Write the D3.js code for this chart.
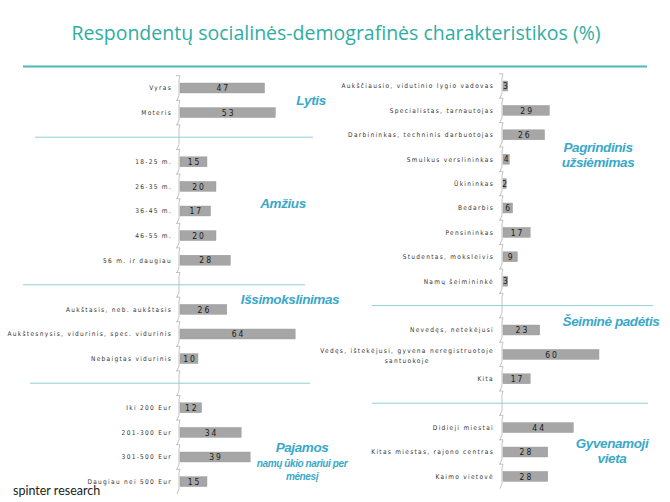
<!DOCTYPE html>
<html>
<head>
<meta charset="utf-8">
<script src="https://cdn.jsdelivr.net/npm/d3@7"></script>
<style>
  body { margin: 0; background: #fff; }
  .cat { font-family: "Liberation Sans Narrow", "DejaVu Sans Condensed", "Liberation Sans", sans-serif; font-size: 6.5px; letter-spacing: 1.3px; fill: #333; }
  .val { font-family: "Liberation Sans Narrow", "DejaVu Sans Condensed", sans-serif; font-size: 8.5px; letter-spacing: 2px; fill: #1a1a1a; }
  .sec { font-family: "Liberation Sans", Arial, sans-serif; font-weight: bold; font-style: italic; fill: #3aa8c9; letter-spacing: -0.4px; }
</style>
</head>
<body>
<script>
// Left column: categories (null = blank row between groups)
const leftCategories = ["Vyras", "Moteris", null,
  "18-25 m.", "26-35 m.", "36-45 m.", "46-55 m.", "56 m. ir daugiau", null,
  "Aukštasis, neb. aukštasis", "Aukštesnysis, vidurinis, spec. vidurinis", "Nebaigtas vidurinis", null,
  "Iki 200 Eur", "201-300 Eur", "301-500 Eur", "Daugiau nei 500 Eur"];
const leftValues = [47, 53, null, 15, 20, 17, 20, 28, null, 26, 64, 10, null, 12, 34, 39, 15];

// Right column
const rightCategories = ["Aukščiausio, vidutinio lygio vadovas", "Specialistas, tarnautojas",
  "Darbininkas, techninis darbuotojas", "Smulkus verslininkas", "Ūkininkas", "Bedarbis",
  "Pensininkas", "Studentas, moksleivis", "Namų šeimininkė", null,
  "Nevedęs, netekėjusi", "Vedęs, ištekėjusi, gyvena neregistruotoje|santuokoje", "Kita", null,
  "Didieji miestai", "Kitas miestas, rajono centras", "Kaimo vietovė"];
const rightValues = [3, 29, 26, 4, 2, 6, 17, 9, 3, null, 23, 60, 17, null, 44, 28, 28];

const leftSections = [["Lytis"], ["Amžius"], ["Išsimokslinimas"], ["Pajamos", "namų ūkio nariui per", "mėnesį"]];
const rightSections = [["Pagrindinis", "užsiėmimas"], ["Šeiminė padėtis"], ["Gyvenamoji", "vieta"]];

const W = 670, H = 502;
const svg = d3.select("body").append("svg").attr("width", W).attr("height", H);

// title
svg.append("text")
  .attr("x", 336).attr("y", 40)
  .attr("text-anchor", "middle")
  .style("font-family", "'Open Sans', 'Noto Sans', sans-serif")
  .style("font-size", "19.5px")
  .style("fill", "#2fada3")
  .text("Respondentų socialinės-demografinės charakteristikos (%)");
svg.append("line")
  .attr("x1", 23).attr("x2", 647).attr("y1", 66.5).attr("y2", 66.5)
  .style("stroke", "#4db7b3").style("stroke-width", 2);

function drawColumn(cats, vals, opt) {
  const keys = cats.map((c, i) => c === null ? "gap" + i : c);
  const y = d3.scaleBand().domain(keys).range(opt.yRange);
  const x = d3.scaleLinear().domain([0, 100]).range([opt.x0, opt.x0 + opt.pxPer100]);
  const g = svg.append("g");
  const bh = 10;

  // axis with small slanted ticks
  const ax = opt.x0 - 1;
  let p = "";
  keys.forEach(k => {
    const t = y(k), b = y(k) + y.bandwidth();
    p += `M${ax - 3},${t} H${ax + 1} L${ax},${t + 4} V${b - 5} L${ax - 2},${b}`;
  });
  g.append("path").attr("d", p).style("fill", "none").style("stroke", "#b3b3b3").style("stroke-width", 0.8);

  // separators in blank rows
  keys.forEach((k, i) => {
    if (cats[i] !== null) return;
    const s = opt.seps.shift();
    g.append("line").attr("x1", s[0]).attr("x2", s[1])
      .attr("y1", y(k) + y.bandwidth() / 2).attr("y2", y(k) + y.bandwidth() / 2)
      .style("stroke", "#8fcfd4").style("stroke-width", 1);
  });

  const rows = keys.map((k, i) => ({ k, c: cats[i], v: vals[i] })).filter(d => d.c !== null);

  g.selectAll(".bar").data(rows).enter().append("rect")
    .attr("x", x(0)).attr("y", d => y(d.k) + y.bandwidth() / 2 - bh / 2)
    .attr("width", d => x(d.v) - x(0)).attr("height", bh)
    .style("fill", "#a6a6a6").style("stroke", "#999").style("stroke-width", 0.4);

  g.selectAll(".val").data(rows).enter().append("text")
    .attr("class", "val")
    .attr("x", d => (x(0) + x(d.v)) / 2 + 1)
    .attr("y", d => y(d.k) + y.bandwidth() / 2 + 3.2)
    .attr("text-anchor", "middle")
    .text(d => d.v);

  rows.forEach(d => {
    const lines = d.c.split("|");
    const cy = y(d.k) + y.bandwidth() / 2;
    if (lines.length === 1) {
      g.append("text").attr("class", "cat").attr("x", opt.labelX).attr("y", cy + 2.3)
        .attr("text-anchor", "end").text(d.c);
    } else {
      const t1 = g.append("text").attr("class", "cat").attr("x", opt.labelX).attr("y", cy - 1.5)
        .attr("text-anchor", "end").text(lines[0]);
      const bb = t1.node().getBBox();
      g.append("text").attr("class", "cat").attr("x", bb.x + bb.width / 2).attr("y", cy + 9)
        .attr("text-anchor", "middle").text(lines[1]);
    }
  });
}

drawColumn(leftCategories, leftValues, {
  yRange: [75.7, 75.7 + 17 * 24.6], x0: 180, pxPer100: 180, labelX: 172,
  seps: [[35, 313], [23, 305], [30, 310]]
});
drawColumn(rightCategories, rightValues, {
  yRange: [73.8, 73.8 + 17 * 24.4], x0: 503, pxPer100: 160, labelX: 494,
  seps: [[372, 653], [372, 648]]
});

// section titles
function section(lines, cx, y0, sizes, lh) {
  lines.forEach((t, i) => {
    svg.append("text").attr("class", "sec")
      .attr("x", cx).attr("y", y0 + i * lh[i])
      .attr("text-anchor", "middle")
      .style("font-size", sizes[i] + "px")
      .text(t);
  });
}
section(leftSections[0], 311, 105, [13.5], [0]);
section(leftSections[1], 283, 208, [13.5], [0]);
section(leftSections[2], 290, 304, [13.5], [0]);
section(leftSections[3], 302, 452, [13.5, 10, 10], [0, 15, 14]);
section(rightSections[0], 598, 152, [13.5, 13.5], [0, 15]);
section(rightSections[1], 611, 326, [13.5], [0]);
section(rightSections[2], 612, 448, [13.5, 13.5], [0, 15]);

// logo
svg.append("text").attr("x", 13).attr("y", 495)
  .style("font-family", "Lato, 'DejaVu Sans', sans-serif")
  .style("font-size", "12.5px").style("fill", "#222")
  .text("spinter research");
</script>
</body>
</html>
